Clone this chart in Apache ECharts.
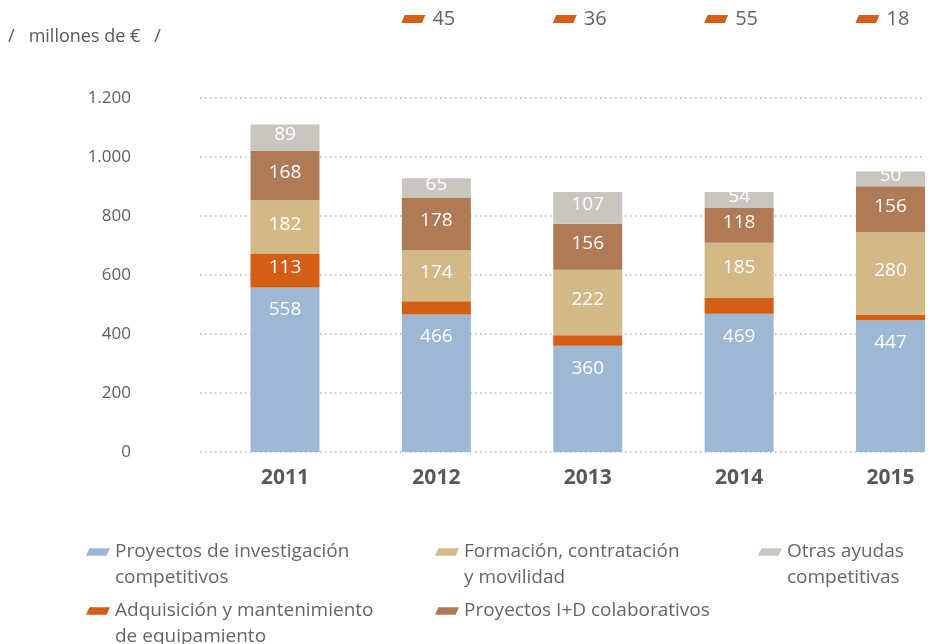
<!DOCTYPE html>
<html>
<head>
<meta charset="utf-8">
<script src="https://cdn.jsdelivr.net/npm/echarts@6/dist/echarts.min.js"></script>
<style>
html, body { margin: 0; padding: 0; background: #fff; }
#chart { width: 940px; height: 644px; }
</style>
</head>
<body>
<div id="chart"></div>
<script>
const YEARS = ['2011', '2012', '2013', '2014', '2015'];
const COMPETITIVOS = [558, 466, 360, 469, 447];
const EQUIPAMIENTO = [113, 45, 36, 55, 18];
const FORMACION = [182, 174, 222, 185, 280];
const COLABORATIVOS = [168, 178, 156, 118, 156];
const OTRAS = [89, 65, 107, 54, 50];

const N_COMP = 'Proyectos de investigación competitivos';
const N_EQUIP = 'Adquisición y mantenimiento de equipamiento';
const N_FORM = 'Formación, contratación y movilidad';
const N_COLAB = 'Proyectos I+D colaborativos';
const N_OTRAS = 'Otras ayudas competitivas';

// a leading empty line keeps the first text line level with the icon
const LEGEND_TEXT = {};
LEGEND_TEXT[N_COMP] = '\nProyectos de investigación\ncompetitivos';
LEGEND_TEXT[N_EQUIP] = '\nAdquisición y mantenimiento\nde equipamiento';
LEGEND_TEXT[N_FORM] = '\nFormación, contratación\ny movilidad';
LEGEND_TEXT[N_COLAB] = 'Proyectos I+D colaborativos';
LEGEND_TEXT[N_OTRAS] = '\nOtras ayudas\ncompetitivas';

const COLORS = {
    comp: '#9db7d4',
    equip: '#d45e14',
    form: '#d3b988',
    colab: '#af7a56',
    otras: '#c9c5bf'
};

const FONT = 'Open Sans';
const ICON = 'path://M3.3,0 L23,0 L19.7,7 L0,7 Z';
const LINE_H = 26;
// orange values too small for an inside label go to the top row
const SMALL = 100;

function legendAt(name, left, top) {
    return {
        data: [name],
        left: left,
        top: top,
        padding: 0,
        icon: ICON,
        itemWidth: 24,
        itemHeight: 8,
        selectedMode: false,
        formatter: (n) => LEGEND_TEXT[n],
        textStyle: {
            fontFamily: FONT,
            fontSize: 19,
            lineHeight: LINE_H,
            color: '#666666'
        }
    };
}

const barLabel = {
    show: true,
    position: 'inside',
    offset: [0, -3],
    color: '#ffffff',
    fontFamily: FONT,
    fontSize: 19
};

let chart = echarts.init(document.getElementById('chart'));

chart.setOption({
    backgroundColor: '#ffffff',
    animation: false,
    title: {
        text: '/   millones de €   /',
        left: 8,
        top: 28,
        padding: 0,
        textStyle: {
            fontFamily: FONT,
            fontSize: 18,
            fontWeight: 'normal',
            color: '#5a5a5a'
        }
    },
    legend: [
        legendAt(N_COMP, 86, 552 - 1.5 * LINE_H),
        legendAt(N_FORM, 435, 552 - 1.5 * LINE_H),
        legendAt(N_OTRAS, 758, 552 - 1.5 * LINE_H),
        legendAt(N_EQUIP, 86, 611 - 1.5 * LINE_H),
        legendAt(N_COLAB, 435, 611 - 0.5 * LINE_H)
    ],
    grid: [
        {left: 200, right: 15, top: 98, bottom: 192},
        {left: 285, right: 49.5, top: 98, bottom: 192},
        {left: 285, right: 49.5, top: 0, height: 38}
    ],
    xAxis: [
        {gridIndex: 0, type: 'category', data: YEARS, show: false},
        {
            gridIndex: 1,
            type: 'category',
            data: YEARS,
            boundaryGap: false,
            axisLine: {show: false},
            axisTick: {show: false},
            axisLabel: {
                margin: 16,
                fontFamily: FONT,
                fontSize: 21,
                fontWeight: 'bold',
                color: '#595959'
            }
        },
        {gridIndex: 2, type: 'category', data: YEARS, boundaryGap: false, show: false}
    ],
    yAxis: [
        {
            gridIndex: 0,
            type: 'value',
            min: 0,
            max: 1200,
            interval: 200,
            axisLine: {show: false},
            axisTick: {show: false},
            axisLabel: {
                margin: 69,
                fontFamily: FONT,
                fontSize: 17,
                color: '#5f5f5f',
                formatter: (v) => v >= 1000 ? Math.floor(v / 1000) + '.' + String(v % 1000).padStart(3, '0') : String(v)
            },
            splitLine: {
                lineStyle: {color: '#b8b8b8', width: 1.5, type: [1.5, 3.5]}
            }
        },
        {gridIndex: 1, type: 'value', min: 0, max: 1200, show: false},
        {gridIndex: 2, type: 'value', min: -1, max: 1, show: false}
    ],
    series: [
        {
            name: N_COMP,
            type: 'bar',
            stack: 'total',
            xAxisIndex: 1,
            yAxisIndex: 1,
            barWidth: 69,
            itemStyle: {color: COLORS.comp},
            label: Object.assign({}, barLabel, {position: 'insideTop', distance: 13, offset: [0, 0]}),
            data: COMPETITIVOS
        },
        {
            name: N_EQUIP,
            type: 'bar',
            stack: 'total',
            xAxisIndex: 1,
            yAxisIndex: 1,
            barWidth: 69,
            itemStyle: {color: COLORS.equip},
            label: barLabel,
            data: EQUIPAMIENTO.map((v) => ({value: v, label: {show: v >= SMALL}}))
        },
        {
            name: N_FORM,
            type: 'bar',
            stack: 'total',
            xAxisIndex: 1,
            yAxisIndex: 1,
            barWidth: 69,
            itemStyle: {color: COLORS.form},
            label: barLabel,
            data: FORMACION
        },
        {
            name: N_COLAB,
            type: 'bar',
            stack: 'total',
            xAxisIndex: 1,
            yAxisIndex: 1,
            barWidth: 69,
            itemStyle: {color: COLORS.colab},
            label: barLabel,
            data: COLABORATIVOS
        },
        {
            name: N_OTRAS,
            type: 'bar',
            stack: 'total',
            xAxisIndex: 1,
            yAxisIndex: 1,
            barWidth: 69,
            itemStyle: {color: COLORS.otras},
            label: barLabel,
            data: OTRAS
        },
        {
            // small orange values written above the chart
            name: 'equipamiento-top',
            type: 'scatter',
            xAxisIndex: 2,
            yAxisIndex: 2,
            symbol: ICON,
            symbolSize: [24, 8],
            symbolOffset: [-23, 0],
            itemStyle: {color: COLORS.equip, opacity: 1},
            silent: true,
            label: {
                show: true,
                position: 'right',
                distance: 7,
                fontFamily: FONT,
                fontSize: 20,
                color: '#646464',
                formatter: (p) => String(p.value[2])
            },
            data: EQUIPAMIENTO
                .map((v, i) => [YEARS[i], 0, v])
                .filter((d) => d[2] < SMALL)
        }
    ]
});
</script>
</body>
</html>
